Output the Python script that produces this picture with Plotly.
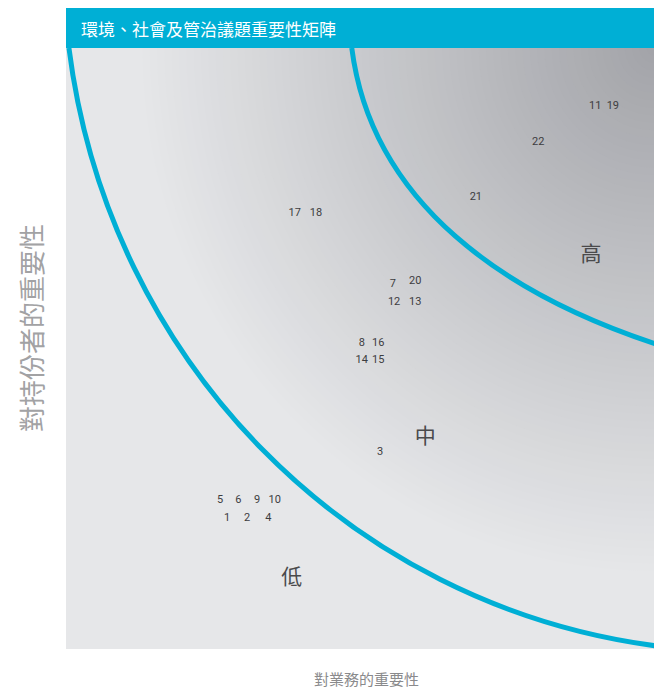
import plotly.graph_objects as go
import numpy as np

# ---- data ----
issue_ids = ["11", "19", "22", "21", "17", "18", "7", "20", "12", "13",
             "8", "16", "14", "15", "3", "5", "6", "9", "10", "1", "2", "4"]
business_importance = [9.00, 9.30, 8.03, 6.97, 3.89, 4.25, 5.56, 5.94, 5.58, 5.94,
                       5.03, 5.31, 5.03, 5.31, 5.34, 2.62, 2.93, 3.25, 3.55, 2.74, 3.08, 3.44]
stakeholder_importance = [9.03, 9.03, 8.43, 7.51, 7.25, 7.25, 6.07, 6.12, 5.77, 5.77,
                          5.08, 5.08, 4.80, 4.80, 3.28, 2.47, 2.47, 2.47, 2.47, 2.17, 2.17, 2.17]

zone_labels = ["高", "中", "低"]
zone_x = [8.93, 6.11, 3.84]
zone_y = [6.55, 3.51, 1.17]

title_text = "環境、社會及管治議題重要性矩陣"
x_title = "對業務的重要性"
y_title = "對持份者的重要性"

# ---- styling ----
BLUE = "#00AFD5"
W, H = 654, 689
ML, MR, MT, MB = 66, 0, 48, 40
plot_w = W - ML - MR
plot_h = H - MT - MB

fig = go.Figure()

fig.add_trace(go.Scatter(
    x=business_importance, y=stakeholder_importance, text=issue_ids,
    mode="text", textposition="middle center",
    textfont=dict(family="Roboto", size=11, color="#3d3d3f"),
    hoverinfo="text", showlegend=False))

fig.add_trace(go.Scatter(
    x=zone_x, y=zone_y, text=zone_labels, mode="text",
    textposition="middle center",
    textfont=dict(family="Noto Sans CJK TC", size=21, color="#4a4a4c"),
    hoverinfo="skip", showlegend=False))

shapes = []
# radial background gradient from the top-right corner
edge = np.array([230, 231, 233])
center = np.array([163, 164, 169])
R = 8.7
N = 70
for k in range(N):
    r = R * (N - k) / N
    t = (k + 1) / N
    c = edge + (center - edge) * t
    shapes.append(dict(type="circle", xref="x", yref="y",
                       x0=10 - r, x1=10 + r, y0=10 - r, y1=10 + r,
                       fillcolor="rgb(%d,%d,%d)" % tuple(c.round().astype(int)),
                       line=dict(width=0), layer="below"))

# zone boundary curves
shapes.append(dict(type="path", xref="x", yref="y", layer="below",
                   path="M 0.05,10 C 0.72,4.8 4.8,0.72 10.05,0.05 L 10.3,-0.02",
                   line=dict(color=BLUE, width=5)))
shapes.append(dict(type="path", xref="x", yref="y", layer="below",
                   path="M 4.86,10 C 5.2,7.39 7.5,5.89 10.05,5.07 L 10.3,5.0",
                   line=dict(color=BLUE, width=5)))

# title bar
shapes.append(dict(type="rect", xref="paper", yref="paper",
                   x0=0, x1=1, y0=1, y1=1 + 40 / plot_h,
                   fillcolor=BLUE, line=dict(width=0)))

annotations = [
    dict(text=title_text, xref="paper", yref="paper", x=0, y=1 + 20 / plot_h,
         xanchor="left", yanchor="middle", xshift=13, showarrow=False,
         font=dict(family="Noto Sans CJK TC", size=17, color="white")),
    dict(text=x_title, xref="paper", yref="paper", x=(366 - ML) / plot_w,
         y=-29 / plot_h, xanchor="center", yanchor="middle", showarrow=False,
         font=dict(family="Noto Sans CJK TC", size=15, color="#8a8a8c")),
    dict(text=y_title, xref="paper", yref="paper", x=(30 - ML) / plot_w,
         y=(649 - 328) / plot_h, xanchor="center", yanchor="middle", showarrow=False,
         textangle=-90,
         font=dict(family="Noto Sans CJK TC", size=26, color="#a2a2a4")),
]

fig.update_layout(
    width=W, height=H, autosize=False,
    margin=dict(l=ML, r=MR, t=MT, b=MB),
    paper_bgcolor="white", plot_bgcolor="rgb(230,231,233)",
    shapes=shapes, annotations=annotations,
    xaxis=dict(range=[0, 10], showgrid=False, zeroline=False, showticklabels=False,
               ticks="", showline=False, fixedrange=True),
    yaxis=dict(range=[0, 10], showgrid=False, zeroline=False, showticklabels=False,
               ticks="", showline=False, fixedrange=True),
    showlegend=False,
)

fig.write_html("out.html", config={"responsive": False, "displayModeBar": False},
               post_script="document.body.style.margin='0';document.body.style.overflow='hidden';")
